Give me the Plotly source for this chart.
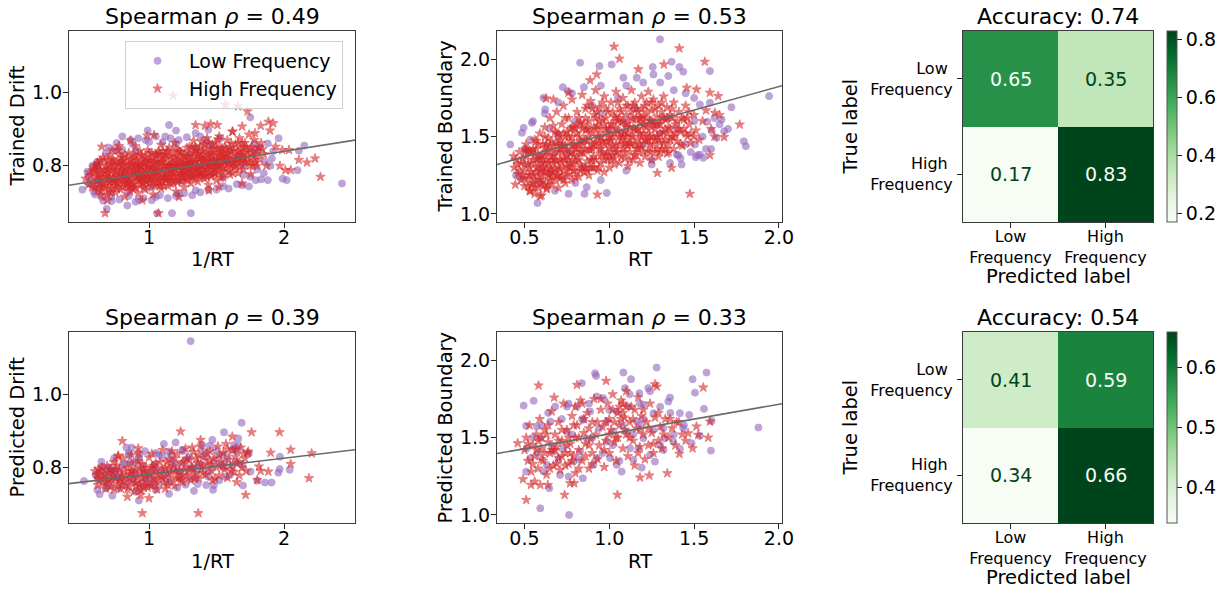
import plotly.graph_objects as go

# ---------------------------------------------------------------- data
# (x, y) pairs per panel and frequency group

# Trained drift vs 1/RT
drift_train_low = [
    (0.506, 0.735), (0.543, 0.784), (0.617, 0.811), (0.592, 0.729), (0.654, 0.715), (0.686, 0.683),
    (0.723, 0.704), (0.802, 0.880), (0.839, 0.692), (0.925, 0.708), (0.990, 0.896), (1.148, 0.911),
    (1.200, 0.896), (1.120, 0.880), (1.060, 0.671), (1.170, 0.671), (1.310, 0.671), (1.050, 0.715),
    (1.220, 0.724), (1.345, 0.733), (1.440, 0.735), (1.590, 0.738), (1.690, 0.747), (1.740, 0.744),
    (1.790, 0.761), (1.830, 0.763), (1.880, 0.761), (1.990, 0.765), (2.020, 0.761), (2.100, 0.788),
    (2.150, 0.855), (2.110, 0.841), (1.960, 0.875), (1.750, 0.932), (2.430, 0.752), (1.880, 0.861),
    (1.860, 0.811), (1.910, 0.820), (1.790, 0.843), (1.530, 0.875), (1.345, 0.889), (1.440, 0.898),
    (0.975, 0.870), (0.864, 0.870), (0.750, 0.843), (0.680, 0.834), (0.555, 0.752), (0.630, 0.761),
    (0.800, 0.780), (0.950, 0.800), (1.100, 0.770), (1.300, 0.830), (1.500, 0.800), (1.200, 0.860),
    (1.000, 0.740), (0.700, 0.760), (1.400, 0.780), (1.600, 0.840), (0.900, 0.840), (1.250, 0.760),
    (1.700, 0.800), (1.050, 0.830), (0.850, 0.730), (1.350, 0.850), (1.550, 0.770), (1.150, 0.800),
    (0.750, 0.810), (1.450, 0.860), (0.600, 0.722), (0.660, 0.705), (0.720, 0.715), (0.780, 0.708),
    (0.850, 0.718), (0.900, 0.702), (0.960, 0.712), (1.020, 0.706), (1.080, 0.720), (1.140, 0.712),
    (1.200, 0.718), (1.260, 0.725), (1.320, 0.720), (1.380, 0.728), (1.500, 0.735), (1.550, 0.745),
    (1.650, 0.750), (0.700, 0.850), (0.760, 0.862), (0.800, 0.845), (0.880, 0.858), (0.920, 0.875),
    (1.000, 0.865), (1.050, 0.880), (1.100, 0.865), (1.160, 0.875), (1.220, 0.870), (1.280, 0.878),
    (1.380, 0.880), (1.420, 0.870), (1.800, 0.790), (1.850, 0.780), (1.900, 0.800), (1.750, 0.770),
    (1.700, 0.775), (1.820, 0.850), (1.780, 0.860), (1.920, 0.840), (0.550, 0.770), (0.580, 0.800),
    (0.620, 0.790), (0.600, 0.745),
]
drift_train_high = [
    (0.53, 0.765), (0.55, 0.748), (0.56, 0.782), (0.58, 0.760), (0.59, 0.795), (0.60, 0.741),
    (0.61, 0.773), (0.62, 0.808), (0.63, 0.752), (0.64, 0.787), (0.64, 0.731), (0.66, 0.766),
    (0.67, 0.815), (0.67, 0.744), (0.68, 0.798), (0.69, 0.722), (0.70, 0.778), (0.71, 0.755),
    (0.71, 0.829), (0.72, 0.738), (0.73, 0.791), (0.74, 0.769), (0.74, 0.812), (0.75, 0.727),
    (0.76, 0.752), (0.77, 0.801), (0.77, 0.842), (0.78, 0.775), (0.79, 0.735), (0.80, 0.760),
    (0.80, 0.823), (0.81, 0.789), (0.82, 0.716), (0.83, 0.748), (0.83, 0.808), (0.84, 0.772),
    (0.85, 0.835), (0.86, 0.731), (0.86, 0.795), (0.87, 0.758), (0.88, 0.818), (0.89, 0.780),
    (0.89, 0.742), (0.90, 0.853), (0.91, 0.766), (0.92, 0.803), (0.92, 0.725), (0.93, 0.785),
    (0.94, 0.748), (0.95, 0.827), (0.95, 0.770), (0.96, 0.806), (0.97, 0.735), (0.98, 0.790),
    (0.98, 0.757), (0.99, 0.842), (1.00, 0.775), (1.01, 0.814), (1.02, 0.745), (1.02, 0.796),
    (1.03, 0.722), (1.04, 0.764), (1.05, 0.829), (1.05, 0.782), (1.06, 0.751), (1.07, 0.808),
    (1.08, 0.770), (1.09, 0.857), (1.09, 0.738), (1.10, 0.792), (1.11, 0.820), (1.12, 0.760),
    (1.12, 0.779), (1.13, 0.840), (1.14, 0.745), (1.15, 0.803), (1.16, 0.767), (1.16, 0.826),
    (1.17, 0.786), (1.18, 0.752), (1.19, 0.862), (1.20, 0.812), (1.20, 0.730), (1.21, 0.774),
    (1.22, 0.795), (1.23, 0.838), (1.24, 0.758), (1.24, 0.818), (1.25, 0.780), (1.26, 0.742),
    (1.27, 0.803), (1.28, 0.849), (1.28, 0.765), (1.29, 0.826), (1.30, 0.788), (1.31, 0.752),
    (1.32, 0.810), (1.33, 0.868), (1.33, 0.773), (1.34, 0.834), (1.35, 0.795), (1.36, 0.757),
    (1.37, 0.818), (1.38, 0.852), (1.38, 0.781), (1.39, 0.802), (1.40, 0.840), (1.41, 0.765),
    (1.42, 0.823), (1.43, 0.790), (1.43, 0.875), (1.44, 0.748), (1.45, 0.808), (1.46, 0.846),
    (1.47, 0.775), (1.47, 0.828), (1.48, 0.797), (1.49, 0.862), (1.50, 0.760), (1.51, 0.815),
    (1.52, 0.783), (1.52, 0.880), (1.53, 0.838), (1.54, 0.803), (1.55, 0.768), (1.56, 0.852),
    (1.57, 0.822), (1.57, 0.790), (1.58, 0.870), (1.59, 0.808), (1.60, 0.776), (1.61, 0.840),
    (1.62, 0.893), (1.62, 0.818), (1.63, 0.795), (1.64, 0.858), (1.65, 0.830), (1.66, 0.780),
    (1.67, 0.875), (1.67, 0.808), (1.68, 0.845), (1.69, 0.823), (1.70, 0.790), (1.71, 0.862),
    (1.72, 0.812), (1.73, 0.838), (1.74, 0.885), (1.75, 0.800), (1.76, 0.852), (1.77, 0.825),
    (1.78, 0.870), (1.79, 0.808), (1.80, 0.840), (1.82, 0.818), (1.83, 0.862), (1.85, 0.832),
    (1.87, 0.800),
    (0.62, 0.770), (0.65, 0.752), (0.68, 0.782), (0.70, 0.745), (0.72, 0.805), (0.73, 0.762),
    (0.76, 0.788), (0.78, 0.752), (0.79, 0.812), (0.81, 0.768), (0.82, 0.782), (0.84, 0.742),
    (0.85, 0.800), (0.87, 0.776), (0.88, 0.752), (0.90, 0.790), (0.91, 0.815), (0.93, 0.760),
    (0.94, 0.798), (0.96, 0.780), (0.97, 0.823), (0.99, 0.768), (1.00, 0.752), (1.01, 0.795),
    (1.03, 0.780), (1.04, 0.808), (1.06, 0.770), (1.07, 0.790), (1.08, 0.832), (1.10, 0.758),
    (1.11, 0.800), (1.13, 0.785), (1.14, 0.822), (1.15, 0.770), (1.17, 0.808), (1.18, 0.835),
    (1.19, 0.790), (1.21, 0.755), (1.22, 0.822), (1.23, 0.800), (1.25, 0.768), (1.26, 0.815),
    (1.27, 0.785), (1.29, 0.800), (1.30, 0.835), (1.31, 0.775), (1.32, 0.850), (1.34, 0.790),
    (1.35, 0.815), (1.36, 0.775), (1.37, 0.838), (1.39, 0.823), (1.40, 0.790), (1.41, 0.858),
    (1.42, 0.805), (1.44, 0.830), (1.45, 0.782), (1.46, 0.812), (1.48, 0.845), (1.49, 0.790),
    (1.50, 0.830), (1.51, 0.800), (1.53, 0.820), (1.54, 0.848), (1.55, 0.795), (1.58, 0.835),
    (1.60, 0.805), (1.63, 0.842), (1.65, 0.815), (1.68, 0.830), (1.70, 0.850),
    (0.60, 0.785), (0.63, 0.800), (0.65, 0.738), (0.66, 0.822), (0.69, 0.762), (0.69, 0.790),
    (0.72, 0.728), (0.73, 0.818), (0.75, 0.784), (0.75, 0.745), (0.77, 0.765), (0.78, 0.830),
    (0.80, 0.742), (0.80, 0.800), (0.82, 0.755), (0.83, 0.790), (0.84, 0.822), (0.85, 0.765),
    (0.86, 0.745), (0.87, 0.805), (0.88, 0.782), (0.89, 0.830), (0.90, 0.740), (0.91, 0.798),
    (0.92, 0.775), (0.93, 0.840), (0.94, 0.765), (0.95, 0.788), (0.96, 0.752), (0.97, 0.810),
    (0.98, 0.772), (0.99, 0.795), (1.00, 0.835), (1.01, 0.760), (1.02, 0.820), (1.03, 0.795),
    (1.04, 0.745), (1.05, 0.808), (1.06, 0.785), (1.07, 0.840), (1.08, 0.758), (1.09, 0.810),
    (1.10, 0.775), (1.11, 0.745), (1.12, 0.830), (1.13, 0.762), (1.14, 0.800), (1.15, 0.850),
    (1.16, 0.785), (1.17, 0.760), (1.18, 0.818), (1.19, 0.772), (1.20, 0.845), (1.21, 0.800),
    (1.22, 0.760), (1.23, 0.782), (1.24, 0.838), (1.25, 0.805), (1.26, 0.770), (1.27, 0.825),
    (1.28, 0.792), (1.29, 0.760), (1.30, 0.852), (1.31, 0.810), (1.32, 0.785), (1.33, 0.825),
    (1.34, 0.765), (1.35, 0.842), (1.36, 0.800), (1.37, 0.782), (1.38, 0.820), (1.39, 0.865),
    (1.40, 0.772), (1.41, 0.812), (1.42, 0.845), (1.43, 0.770), (1.44, 0.800), (1.45, 0.835),
    (1.46, 0.772), (1.47, 0.858), (1.48, 0.812), (1.49, 0.780), (1.50, 0.845), (1.51, 0.872),
    (1.52, 0.800), (1.53, 0.768), (1.54, 0.825), (1.56, 0.810), (1.57, 0.845), (1.59, 0.785),
    (1.61, 0.860), (1.62, 0.800), (1.64, 0.818), (1.66, 0.840), (1.67, 0.795), (1.69, 0.862),
    (1.71, 0.808), (1.73, 0.825), (1.75, 0.845), (1.77, 0.800), (1.79, 0.830), (1.81, 0.850),
    (0.57, 0.775), (0.61, 0.758), (0.64, 0.770), (0.67, 0.790), (0.70, 0.802), (0.71, 0.770),
    (0.74, 0.755), (0.76, 0.772), (0.79, 0.788), (0.81, 0.805), (0.83, 0.765), (0.85, 0.785),
    (0.88, 0.800), (0.90, 0.772), (0.92, 0.790), (0.94, 0.812), (0.96, 0.768), (0.98, 0.780),
    (1.00, 0.800), (1.02, 0.768), (1.04, 0.788), (1.06, 0.812), (1.08, 0.792), (1.10, 0.812),
    (1.12, 0.800), (1.14, 0.768), (1.16, 0.800), (1.18, 0.780), (1.20, 0.800), (1.22, 0.808),
    (1.24, 0.790), (1.26, 0.830), (1.28, 0.808), (1.30, 0.772), (1.32, 0.795), (1.34, 0.810),
    (1.36, 0.832), (1.38, 0.800), (1.40, 0.815), (1.42, 0.790), (1.44, 0.815), (1.46, 0.795),
    (1.48, 0.815), (1.50, 0.815), (1.52, 0.830), (1.55, 0.815), (1.58, 0.820), (1.60, 0.825),
    (1.63, 0.810), (1.66, 0.825), (1.70, 0.820),
    (0.58, 0.742), (0.60, 0.800), (0.62, 0.735), (0.64, 0.815), (0.66, 0.748), (0.68, 0.770),
    (0.70, 0.730), (0.72, 0.785), (0.74, 0.800), (0.76, 0.738), (0.78, 0.805), (0.80, 0.770),
    (0.82, 0.830), (0.84, 0.758), (0.86, 0.815), (0.88, 0.738), (0.90, 0.805), (0.92, 0.760),
    (0.94, 0.830), (0.96, 0.740), (0.98, 0.815), (1.00, 0.762), (1.02, 0.835), (1.04, 0.775),
    (1.06, 0.830), (1.08, 0.745), (1.10, 0.825), (1.12, 0.770), (1.14, 0.840), (1.16, 0.752),
    (1.18, 0.800), (1.20, 0.762), (1.22, 0.840), (1.24, 0.775), (1.26, 0.800), (1.28, 0.780),
    (1.30, 0.805), (1.32, 0.770), (1.34, 0.850), (1.36, 0.790), (1.38, 0.768), (1.40, 0.830),
    (1.42, 0.775), (1.44, 0.860), (1.46, 0.830), (1.48, 0.780), (1.50, 0.800), (1.52, 0.850),
    (1.54, 0.785), (1.56, 0.830), (1.58, 0.805), (1.60, 0.850), (1.62, 0.780), (1.64, 0.800),
    (1.66, 0.862), (1.68, 0.812), (1.70, 0.835), (1.72, 0.850), (1.74, 0.810), (1.76, 0.835),
    (1.78, 0.815), (1.80, 0.800), (1.84, 0.845), (0.65, 0.780), (0.75, 0.760), (0.85, 0.752),
    (0.95, 0.755), (1.05, 0.755), (1.15, 0.790), (1.25, 0.790), (1.35, 0.780), (1.45, 0.800),
    (1.55, 0.835), (0.70, 0.815), (0.80, 0.815), (0.90, 0.825), (1.00, 0.815), (1.10, 0.840),
    (1.20, 0.825), (1.30, 0.815), (1.40, 0.800),
    (1.177, 0.991), (1.567, 0.966), (1.660, 0.962), (1.730, 0.948), (2.110, 0.816), (2.170, 0.809),
    (2.230, 0.820), (2.270, 0.770), (2.050, 0.788), (2.010, 0.788), (1.970, 0.800), (0.674, 0.671),
    (1.070, 0.671), (0.642, 0.720), (0.691, 0.706), (0.950, 0.706), (1.222, 0.715), (1.444, 0.733),
    (1.518, 0.743), (1.690, 0.752), (1.753, 0.777), (1.884, 0.920), (1.920, 0.916), (1.827, 0.909),
    (1.896, 0.896), (1.785, 0.889), (1.690, 0.907), (1.617, 0.893), (1.345, 0.911), (1.456, 0.914),
    (1.506, 0.911), (1.414, 0.909), (1.987, 0.843), (2.037, 0.843), (1.938, 0.852), (0.649, 0.852),
    (0.728, 0.843), (0.777, 0.854), (0.864, 0.869), (1.037, 0.884), (0.987, 0.882), (0.592, 0.788),
    (0.617, 0.802),
]

# Trained boundary vs RT
boundary_train_low = [
    (1.299, 2.129), (0.828, 1.978), (0.942, 1.956), (1.014, 1.967), (1.256, 1.950), (1.367, 1.984),
    (1.413, 1.950), (1.593, 1.924), (1.942, 1.762), (1.793, 1.470), (1.805, 1.438), (1.720, 1.690),
    (1.677, 1.535), (1.662, 1.611), (0.416, 1.449), (0.577, 1.071), (0.760, 1.130), (0.854, 1.130),
    (0.985, 1.136), (0.867, 1.173), (0.726, 1.820), (0.756, 1.794), (1.534, 1.384), (1.554, 1.363),
    (1.510, 1.367), (1.407, 1.380), (1.505, 1.449), (1.577, 1.596), (1.593, 1.719), (1.534, 1.708),
    (1.436, 1.920), (1.348, 1.892), (1.260, 1.902), (1.162, 1.881), (1.083, 1.881), (0.485, 1.525),
    (0.495, 1.557), (0.544, 1.589), (0.534, 1.481), (0.475, 1.233), (0.612, 1.751), (0.622, 1.676),
    (1.358, 1.330), (1.397, 1.384), (1.250, 1.352), (1.426, 1.319), (1.632, 1.492), (1.603, 1.540),
    (0.60, 1.35), (0.70, 1.50), (0.80, 1.60), (0.90, 1.70), (1.00, 1.55), (1.10, 1.60), (1.20, 1.45),
    (1.30, 1.52), (0.75, 1.40), (0.85, 1.30), (0.95, 1.65), (1.05, 1.75), (1.15, 1.68), (1.25, 1.60),
    (1.35, 1.62), (1.40, 1.55), (1.45, 1.45), (1.50, 1.60), (1.55, 1.50), (1.60, 1.42), (1.65, 1.58),
    (1.70, 1.55), (0.65, 1.55), (0.55, 1.60), (0.50, 1.42), (0.45, 1.25), (0.58, 1.20), (0.68, 1.15),
    (0.80, 1.20), (0.95, 1.22), (1.10, 1.28), (1.25, 1.32), (1.42, 1.36), (1.48, 1.40), (1.52, 1.38),
    (1.57, 1.42), (1.30, 1.85), (1.20, 1.85), (1.10, 1.83), (0.95, 1.83), (0.85, 1.82), (0.78, 1.78),
    (0.70, 1.72), (0.62, 1.65), (1.45, 1.78), (1.50, 1.75), (1.38, 1.80), (1.62, 1.62),
]
boundary_train_high = [
    (0.44, 1.30), (0.45, 1.35), (0.46, 1.26), (0.47, 1.40), (0.48, 1.22), (0.48, 1.33),
    (0.50, 1.18), (0.50, 1.28), (0.51, 1.37), (0.51, 1.45), (0.52, 1.23), (0.52, 1.32), (0.53, 1.15),
    (0.53, 1.41), (0.54, 1.27), (0.55, 1.20), (0.55, 1.35), (0.56, 1.48), (0.56, 1.13), (0.57, 1.30),
    (0.57, 1.42), (0.58, 1.24), (0.58, 1.17), (0.59, 1.37), (0.59, 1.52), (0.60, 1.28), (0.60, 1.12),
    (0.61, 1.45), (0.61, 1.21), (0.62, 1.33), (0.62, 1.56), (0.63, 1.16), (0.63, 1.40), (0.64, 1.25),
    (0.64, 1.49), (0.65, 1.30), (0.65, 1.62), (0.66, 1.19), (0.66, 1.37), (0.67, 1.44), (0.67, 1.27),
    (0.68, 1.53), (0.68, 1.22), (0.69, 1.34), (0.69, 1.66), (0.70, 1.40), (0.70, 1.17), (0.71, 1.29),
    (0.71, 1.48), (0.72, 1.58), (0.72, 1.24), (0.73, 1.36), (0.73, 1.70), (0.74, 1.44), (0.74, 1.20),
    (0.75, 1.31), (0.75, 1.53), (0.76, 1.62), (0.76, 1.26), (0.77, 1.39), (0.77, 1.47), (0.78, 1.22),
    (0.78, 1.74), (0.79, 1.33), (0.79, 1.56), (0.80, 1.43), (0.80, 1.28), (0.81, 1.66), (0.81, 1.37),
    (0.82, 1.50), (0.82, 1.24), (0.83, 1.59), (0.83, 1.32), (0.84, 1.45), (0.84, 1.77), (0.85, 1.39),
    (0.85, 1.27), (0.86, 1.54), (0.86, 1.68), (0.87, 1.34), (0.87, 1.47), (0.88, 1.25), (0.88, 1.60),
    (0.89, 1.41), (0.89, 1.73), (0.90, 1.30), (0.90, 1.52), (0.91, 1.64), (0.91, 1.37), (0.92, 1.46),
    (0.92, 1.80), (0.93, 1.28), (0.93, 1.57), (0.94, 1.42), (0.94, 1.69), (0.95, 1.33), (0.95, 1.50),
    (0.96, 1.61), (0.96, 1.39), (0.97, 1.76), (0.97, 1.27), (0.98, 1.47), (0.98, 1.55), (0.99, 1.35),
    (0.99, 1.66), (1.00, 1.43), (1.00, 1.30), (1.01, 1.58), (1.01, 1.72), (1.02, 1.38), (1.02, 1.50),
    (1.03, 1.63), (1.03, 1.32), (1.04, 1.45), (1.04, 1.79), (1.05, 1.54), (1.05, 1.40), (1.06, 1.68),
    (1.06, 1.33), (1.07, 1.48), (1.07, 1.59), (1.08, 1.42), (1.08, 1.75), (1.09, 1.36), (1.09, 1.53),
    (1.10, 1.64), (1.10, 1.46), (1.11, 1.31), (1.11, 1.70), (1.12, 1.56), (1.12, 1.40), (1.13, 1.50),
    (1.13, 1.80), (1.14, 1.35), (1.14, 1.61), (1.15, 1.45), (1.15, 1.72), (1.16, 1.54), (1.16, 1.38),
    (1.17, 1.66), (1.17, 1.48), (1.18, 1.33), (1.18, 1.59), (1.19, 1.43), (1.19, 1.76), (1.20, 1.52),
    (1.20, 1.63), (1.21, 1.37), (1.21, 1.70), (1.22, 1.47), (1.22, 1.56), (1.23, 1.41), (1.23, 1.79),
    (1.24, 1.60), (1.24, 1.50), (1.25, 1.35), (1.25, 1.67), (1.26, 1.45), (1.26, 1.74), (1.27, 1.55),
    (1.27, 1.40), (1.28, 1.63), (1.28, 1.50), (1.29, 1.70), (1.29, 1.37), (1.30, 1.58), (1.30, 1.46),
    (1.31, 1.66), (1.31, 1.42), (1.32, 1.53), (1.32, 1.76), (1.33, 1.48), (1.33, 1.61), (1.34, 1.39),
    (1.34, 1.69), (1.35, 1.56), (1.35, 1.45), (1.36, 1.64), (1.37, 1.50), (1.38, 1.42), (1.38, 1.72),
    (1.39, 1.58), (1.40, 1.47), (1.41, 1.66), (1.42, 1.53), (1.43, 1.44), (1.44, 1.61), (1.45, 1.70),
    (1.46, 1.50), (1.47, 1.58), (1.48, 1.46), (1.50, 1.64), (1.51, 1.54), (1.53, 1.48), (1.55, 1.60),
    (1.57, 1.67), (1.60, 1.55), (1.62, 1.50), (1.65, 1.64),
    (0.53, 1.25), (0.56, 1.39), (0.58, 1.31), (0.60, 1.20), (0.62, 1.43), (0.63, 1.29), (0.65, 1.22),
    (0.66, 1.47), (0.68, 1.35), (0.70, 1.25), (0.71, 1.42), (0.73, 1.28), (0.74, 1.50), (0.76, 1.35),
    (0.78, 1.44), (0.80, 1.34), (0.81, 1.52), (0.83, 1.40), (0.85, 1.48), (0.87, 1.55), (0.89, 1.35),
    (0.91, 1.45), (0.93, 1.50), (0.95, 1.42), (0.97, 1.58), (1.00, 1.50), (1.02, 1.44), (1.04, 1.62),
    (1.07, 1.52), (1.10, 1.56), (1.13, 1.45), (1.16, 1.62), (1.19, 1.50), (1.22, 1.66), (1.25, 1.56),
    (0.47, 1.28), (0.49, 1.36), (0.50, 1.23), (0.52, 1.40), (0.54, 1.33), (0.55, 1.25), (0.57, 1.47),
    (0.58, 1.36), (0.59, 1.22), (0.61, 1.30), (0.62, 1.50), (0.63, 1.35), (0.64, 1.19), (0.65, 1.44),
    (0.66, 1.28), (0.67, 1.57), (0.68, 1.40), (0.69, 1.25), (0.70, 1.52), (0.71, 1.35), (0.72, 1.44),
    (0.73, 1.22), (0.74, 1.62), (0.75, 1.38), (0.76, 1.50), (0.77, 1.30), (0.78, 1.56), (0.79, 1.45),
    (0.80, 1.24), (0.81, 1.42), (0.82, 1.62), (0.83, 1.47), (0.84, 1.30), (0.85, 1.58), (0.86, 1.42),
    (0.87, 1.70), (0.88, 1.50), (0.89, 1.30), (0.90, 1.45), (0.91, 1.56), (0.92, 1.35), (0.93, 1.66),
    (0.94, 1.50), (0.95, 1.38), (0.96, 1.72), (0.97, 1.45), (0.98, 1.62), (0.99, 1.40), (1.00, 1.55),
    (1.01, 1.35), (1.02, 1.66), (1.03, 1.52), (1.04, 1.40), (1.05, 1.72), (1.06, 1.50), (1.07, 1.37),
    (1.08, 1.60), (1.09, 1.45), (1.10, 1.70), (1.11, 1.52), (1.12, 1.35), (1.13, 1.62), (1.14, 1.50),
    (1.15, 1.38), (1.16, 1.68), (1.17, 1.55), (1.18, 1.45), (1.19, 1.62), (1.20, 1.40), (1.21, 1.57),
    (1.22, 1.72), (1.23, 1.52), (1.24, 1.40), (1.25, 1.60), (1.26, 1.50), (1.27, 1.68), (1.28, 1.42),
    (1.29, 1.58), (1.30, 1.52), (1.31, 1.72), (1.32, 1.46), (1.33, 1.55), (1.34, 1.62), (1.35, 1.40),
    (1.36, 1.55), (1.37, 1.68), (1.38, 1.50), (1.40, 1.60), (1.42, 1.45), (1.44, 1.55), (1.46, 1.62),
    (1.48, 1.52),
    (0.50, 1.32), (0.52, 1.18), (0.54, 1.40), (0.56, 1.22), (0.57, 1.35), (0.59, 1.28), (0.60, 1.38),
    (0.61, 1.25), (0.63, 1.45), (0.64, 1.33), (0.66, 1.24), (0.67, 1.38), (0.69, 1.46), (0.70, 1.30),
    (0.72, 1.33), (0.73, 1.45), (0.75, 1.25), (0.77, 1.33), (0.78, 1.50), (0.79, 1.28), (0.82, 1.35),
    (0.84, 1.55), (0.86, 1.30), (0.88, 1.42), (0.90, 1.35), (0.92, 1.55), (0.94, 1.30), (0.96, 1.47),
    (0.98, 1.38), (1.00, 1.47), (1.03, 1.42), (1.05, 1.60), (1.08, 1.50), (1.11, 1.44), (1.14, 1.56),
    (1.17, 1.42), (1.20, 1.58), (1.23, 1.48), (1.26, 1.58), (1.29, 1.48), (1.32, 1.62),
    (0.46, 1.32), (0.49, 1.25), (0.51, 1.41), (0.53, 1.30), (0.55, 1.42), (0.56, 1.17), (0.58, 1.45),
    (0.60, 1.33), (0.61, 1.18), (0.62, 1.38), (0.64, 1.41), (0.65, 1.26), (0.67, 1.33), (0.68, 1.29),
    (0.69, 1.52), (0.71, 1.23), (0.72, 1.40), (0.73, 1.52), (0.75, 1.42), (0.76, 1.30), (0.77, 1.55),
    (0.79, 1.38), (0.80, 1.55), (0.82, 1.45), (0.83, 1.28), (0.84, 1.40), (0.86, 1.48), (0.87, 1.28),
    (0.88, 1.55), (0.90, 1.42), (0.91, 1.30), (0.92, 1.62), (0.94, 1.46), (0.95, 1.55), (0.97, 1.35),
    (0.98, 1.52), (1.00, 1.38), (1.01, 1.48), (1.03, 1.36), (1.04, 1.55), (1.06, 1.45), (1.07, 1.66),
    (1.09, 1.40), (1.10, 1.58), (1.12, 1.46), (1.13, 1.66), (1.15, 1.55), (1.16, 1.42), (1.18, 1.52),
    (1.19, 1.68), (1.21, 1.48), (1.22, 1.62), (1.24, 1.45), (1.25, 1.72), (1.27, 1.48), (1.28, 1.58),
    (1.30, 1.40), (1.31, 1.62), (1.33, 1.42), (1.34, 1.52), (1.36, 1.48), (1.37, 1.62), (1.39, 1.52),
    (1.41, 1.55), (1.43, 1.62), (1.45, 1.52), (1.47, 1.66), (1.50, 1.50), (0.54, 1.19), (0.57, 1.27),
    (0.62, 1.27), (0.66, 1.35), (0.70, 1.45), (0.74, 1.35), (0.78, 1.40), (0.82, 1.58), (0.86, 1.62),
    (0.90, 1.68), (0.94, 1.60), (0.98, 1.68), (1.02, 1.58), (1.06, 1.62), (1.10, 1.50), (1.14, 1.70),
    (1.18, 1.62),
    (1.028, 2.082), (1.413, 2.071), (1.060, 2.004), (1.563, 1.984), (1.322, 1.967), (1.475, 1.130),
    (0.930, 1.125), (1.769, 1.578), (1.677, 1.497), (1.593, 1.380), (1.283, 1.265), (1.367, 1.298),
    (1.642, 1.762), (1.593, 1.784), (1.622, 1.654), (0.628, 1.747), (0.671, 1.740), (0.446, 1.190),
    (0.436, 1.373), (0.505, 1.417), (0.534, 1.147), (0.593, 1.114), (0.632, 1.168), (1.456, 1.816),
    (1.514, 1.805), (1.171, 1.935), (0.926, 1.902), (0.887, 1.864), (0.760, 1.784),
]

# Predicted drift vs 1/RT
drift_pred_low = [
    (1.308, 1.147), (1.686, 0.923), (1.555, 0.897), (1.661, 0.880), (1.469, 0.876), (1.110, 0.865),
    (1.197, 0.869), (0.518, 0.763), (0.634, 0.727), (0.728, 0.723), (0.925, 0.710), (1.148, 0.728),
    (1.333, 0.736), (1.474, 0.739), (1.424, 0.752), (1.696, 0.751), (1.802, 0.764), (1.859, 0.759),
    (1.908, 0.759), (1.958, 0.786), (1.968, 0.796), (2.042, 0.794), (1.970, 0.830), (1.740, 0.839),
    (1.629, 0.862), (0.647, 0.816), (0.832, 0.855), (0.871, 0.855), (0.851, 0.835), (0.654, 0.803),
    (1.493, 0.848), (1.530, 0.807), (1.567, 0.775), (1.271, 0.753), (1.049, 0.739), (1.000, 0.753),
    (0.900, 0.734), (0.777, 0.743), (0.679, 0.743), (0.617, 0.739), (1.037, 0.807), (1.173, 0.816),
    (1.370, 0.812), (1.395, 0.862), (1.296, 0.830), (0.963, 0.789), (1.222, 0.789), (1.123, 0.771),
    (0.753, 0.780), (1.642, 0.816), (1.752, 0.789), (1.345, 0.771), (1.444, 0.789), (0.802, 0.807),
    (0.703, 0.789), (0.605, 0.780), (0.925, 0.826), (1.074, 0.835), (1.247, 0.849), (1.148, 0.844),
    (1.543, 0.835), (0.876, 0.762), (0.716, 0.757), (0.975, 0.771), (1.654, 0.844), (1.691, 0.807),
    (1.481, 0.752), (0.70, 0.800), (0.75, 0.790), (0.82, 0.810), (0.90, 0.815), (0.95, 0.760),
    (1.02, 0.770), (1.08, 0.795), (1.15, 0.760), (1.20, 0.810), (1.28, 0.800), (1.35, 0.790),
    (1.42, 0.830), (1.48, 0.810), (1.58, 0.830), (1.62, 0.850), (1.66, 0.860), (0.88, 0.790),
    (0.77, 0.770), (0.66, 0.790), (1.10, 0.830), (1.30, 0.770), (1.55, 0.800), (0.85, 0.840),
    (0.93, 0.835), (1.05, 0.840), (1.25, 0.845), (1.45, 0.860), (1.60, 0.780),
    (0.62, 0.780), (0.67, 0.770), (0.72, 0.795), (0.78, 0.785), (0.83, 0.755), (0.86, 0.815),
    (0.90, 0.780), (0.96, 0.805), (1.00, 0.770), (1.04, 0.795), (1.12, 0.785), (1.18, 0.795),
    (1.23, 0.775), (1.27, 0.820), (1.33, 0.800), (1.38, 0.805), (1.44, 0.775), (1.50, 0.825),
    (1.56, 0.815), (1.62, 0.805), (0.74, 0.825), (0.97, 0.845), (1.16, 0.835), (1.40, 0.845),
    (0.69, 0.750), (0.93, 0.740), (1.07, 0.755), (1.21, 0.745), (1.36, 0.755), (1.52, 0.765),
]
drift_pred_high = [
    (0.62, 0.770), (0.64, 0.792), (0.66, 0.758), (0.67, 0.780), (0.69, 0.805), (0.70, 0.765),
    (0.72, 0.748), (0.73, 0.788), (0.74, 0.815), (0.75, 0.770), (0.77, 0.755), (0.78, 0.795),
    (0.79, 0.742), (0.80, 0.778), (0.81, 0.825), (0.82, 0.762), (0.84, 0.800), (0.85, 0.748),
    (0.86, 0.783), (0.87, 0.812), (0.88, 0.765), (0.89, 0.735), (0.90, 0.795), (0.91, 0.772),
    (0.92, 0.840), (0.93, 0.755), (0.94, 0.787), (0.95, 0.810), (0.96, 0.745), (0.97, 0.775),
    (0.98, 0.798), (0.99, 0.760), (1.00, 0.828), (1.01, 0.782), (1.02, 0.750), (1.03, 0.805),
    (1.04, 0.768), (1.05, 0.790), (1.06, 0.740), (1.08, 0.815), (1.09, 0.775), (1.10, 0.848),
    (1.11, 0.758), (1.12, 0.798), (1.14, 0.782), (1.15, 0.822), (1.16, 0.765), (1.18, 0.805),
    (1.19, 0.750), (1.20, 0.790), (1.21, 0.838), (1.22, 0.772), (1.24, 0.810), (1.25, 0.760),
    (1.26, 0.795), (1.27, 0.852), (1.28, 0.778), (1.30, 0.820), (1.31, 0.765), (1.32, 0.800),
    (1.33, 0.842), (1.34, 0.785), (1.36, 0.812), (1.37, 0.770), (1.38, 0.858), (1.39, 0.795),
    (1.40, 0.828), (1.42, 0.780), (1.43, 0.810), (1.45, 0.845), (1.46, 0.792), (1.47, 0.765),
    (1.48, 0.825), (1.50, 0.800), (1.51, 0.858), (1.52, 0.778), (1.53, 0.815), (1.55, 0.840),
    (1.56, 0.795), (1.57, 0.865), (1.58, 0.772), (1.59, 0.822), (1.60, 0.805), (1.62, 0.848),
    (1.63, 0.788), (1.64, 0.830), (1.65, 0.812), (1.67, 0.778), (1.68, 0.855), (1.69, 0.800),
    (1.71, 0.825), (1.72, 0.790), (1.73, 0.840), (1.65, 0.760),
    (0.66, 0.775), (0.70, 0.785), (0.75, 0.795), (0.78, 0.765), (0.83, 0.775), (0.87, 0.790),
    (0.90, 0.758), (0.95, 0.770), (1.00, 0.785), (1.05, 0.765), (1.10, 0.795), (1.15, 0.800),
    (1.20, 0.770), (1.25, 0.815), (1.30, 0.790), (1.35, 0.825), (1.40, 0.805), (1.45, 0.820),
    (0.72, 0.770), (0.80, 0.752), (0.97, 0.750), (1.12, 0.742), (0.92, 0.818), (0.62, 0.752),
    (0.68, 0.742),
    (0.60, 0.790), (0.63, 0.765), (0.65, 0.800), (0.68, 0.760), (0.71, 0.795), (0.73, 0.775),
    (0.76, 0.805), (0.79, 0.770), (0.82, 0.790), (0.85, 0.770), (0.88, 0.782), (0.91, 0.750),
    (0.93, 0.800), (0.96, 0.790), (0.99, 0.745), (1.02, 0.800), (1.05, 0.812), (1.07, 0.780),
    (1.10, 0.770), (1.13, 0.815), (1.16, 0.785), (1.19, 0.825), (1.22, 0.792), (1.25, 0.780),
    (1.28, 0.825), (1.31, 0.800), (1.34, 0.770), (1.37, 0.835), (1.40, 0.785), (1.43, 0.840),
    (1.46, 0.808), (1.49, 0.770), (1.52, 0.835), (1.55, 0.805), (1.58, 0.850), (1.61, 0.790),
    (1.64, 0.850), (1.67, 0.815), (1.70, 0.838), (0.74, 0.740), (0.84, 0.740), (0.94, 0.738),
    (1.04, 0.752), (1.14, 0.752), (1.24, 0.765), (0.77, 0.830), (0.87, 0.835), (1.02, 0.838),
    (1.17, 0.845), (1.32, 0.855),
    (0.950, 0.675), (1.365, 0.675), (1.716, 0.725), (2.185, 0.771), (2.205, 0.839), (2.049, 0.849),
    (1.967, 0.897), (1.760, 0.897), (1.234, 0.899), (0.802, 0.873), (1.901, 0.841), (2.049, 0.810),
    (1.884, 0.789), (1.827, 0.791), (1.814, 0.803), (1.802, 0.766), (1.735, 0.844), (1.617, 0.885),
    (1.382, 0.876), (0.920, 0.853), (0.772, 0.833), (0.624, 0.796), (0.617, 0.780), (0.839, 0.720),
    (1.000, 0.716), (0.938, 0.725),
]

# Predicted boundary vs RT
boundary_pred_low = [
    (1.279, 1.953), (1.083, 1.921), (0.916, 1.916), (0.922, 1.899), (1.128, 1.878), (1.573, 1.921),
    (1.491, 1.878), (1.505, 1.791), (1.558, 1.686), (1.603, 1.608), (1.599, 1.416), (1.534, 1.511),
    (1.485, 1.464), (1.879, 1.565), (0.593, 1.043), (0.763, 1.000), (0.495, 1.707), (0.554, 1.738),
    (0.510, 1.576), (0.514, 1.431), (0.510, 1.280), (0.646, 1.173), (0.760, 1.248), (0.844, 1.237),
    (1.073, 1.280), (1.191, 1.306), (1.269, 1.345), (1.416, 1.427), (1.348, 1.733), (1.358, 1.759),
    (1.230, 1.820), (1.177, 1.787), (0.838, 1.852), (0.809, 1.701), (0.681, 1.701), (0.750, 1.701),
    (1.093, 1.820), (0.926, 1.766), (0.848, 1.615), (0.985, 1.604), (1.162, 1.604), (1.260, 1.658),
    (1.318, 1.561), (1.377, 1.475), (1.240, 1.388), (1.122, 1.431), (1.005, 1.367), (0.907, 1.324),
    (0.789, 1.345), (0.671, 1.410), (0.593, 1.496), (0.652, 1.604), (0.750, 1.539), (0.867, 1.496),
    (0.985, 1.475), (1.103, 1.539), (1.201, 1.496), (1.299, 1.453), (1.044, 1.669), (0.965, 1.755),
    (0.887, 1.669), (1.201, 1.712), (0.534, 1.367), (0.613, 1.280), (0.710, 1.259), (0.573, 1.572),
    (1.142, 1.356), (1.416, 1.658), (1.471, 1.647), (1.436, 1.561), (1.328, 1.496), (1.181, 1.582),
    (1.112, 1.701), (1.024, 1.539), (0.828, 1.410), (0.730, 1.431), (0.632, 1.324), (1.044, 1.324),
    (0.926, 1.367), (1.171, 1.431),
    (0.55, 1.50), (0.60, 1.58), (0.66, 1.45), (0.72, 1.62), (0.78, 1.52), (0.84, 1.62), (0.90, 1.50),
    (0.96, 1.40), (1.02, 1.45), (1.08, 1.58), (1.14, 1.52), (1.20, 1.62), (1.26, 1.55), (1.32, 1.42),
    (1.38, 1.52), (0.70, 1.36), (0.82, 1.36), (0.94, 1.56), (1.06, 1.35), (1.18, 1.72), (1.30, 1.70),
    (1.44, 1.58), (0.58, 1.40), (0.64, 1.66), (0.76, 1.72), (0.88, 1.72), (1.00, 1.68), (1.12, 1.78),
    (1.24, 1.80), (1.36, 1.66),
]
boundary_pred_high = [
    (0.50, 1.42), (0.51, 1.50), (0.52, 1.35), (0.53, 1.58), (0.54, 1.28), (0.55, 1.45), (0.56, 1.38),
    (0.57, 1.52), (0.58, 1.30), (0.59, 1.62), (0.60, 1.43), (0.61, 1.35), (0.62, 1.55), (0.63, 1.26),
    (0.64, 1.47), (0.65, 1.40), (0.66, 1.67), (0.67, 1.32), (0.68, 1.52), (0.69, 1.44), (0.70, 1.37),
    (0.70, 1.60), (0.71, 1.29), (0.72, 1.48), (0.73, 1.72), (0.74, 1.40), (0.75, 1.55), (0.76, 1.33),
    (0.77, 1.46), (0.78, 1.64), (0.79, 1.38), (0.80, 1.50), (0.80, 1.27), (0.81, 1.58), (0.82, 1.42),
    (0.83, 1.74), (0.84, 1.35), (0.85, 1.53), (0.86, 1.46), (0.87, 1.66), (0.88, 1.30), (0.89, 1.49),
    (0.90, 1.60), (0.90, 1.40), (0.91, 1.75), (0.92, 1.52), (0.93, 1.36), (0.94, 1.45), (0.95, 1.68),
    (0.96, 1.57), (0.97, 1.31), (0.98, 1.48), (0.99, 1.72), (1.00, 1.40), (1.00, 1.62), (1.01, 1.55),
    (1.02, 1.78), (1.03, 1.47), (1.04, 1.35), (1.05, 1.66), (1.06, 1.58), (1.07, 1.74), (1.08, 1.43),
    (1.09, 1.63), (1.10, 1.52), (1.10, 1.80), (1.11, 1.38), (1.12, 1.60), (1.13, 1.70), (1.14, 1.48),
    (1.15, 1.32), (1.16, 1.56), (1.17, 1.76), (1.18, 1.44), (1.19, 1.64), (1.20, 1.52), (1.21, 1.36),
    (1.22, 1.60), (1.23, 1.45), (1.24, 1.72), (1.25, 1.53), (1.26, 1.40), (1.27, 1.63), (1.28, 1.83),
    (1.29, 1.48), (1.30, 1.57), (1.31, 1.43), (1.33, 1.62), (1.35, 1.50), (1.37, 1.56), (1.39, 1.45),
    (1.41, 1.60), (1.43, 1.52), (1.45, 1.48),
    (0.60, 1.50), (0.65, 1.30), (0.68, 1.42), (0.72, 1.38), (0.75, 1.45), (0.78, 1.35), (0.82, 1.50),
    (0.86, 1.38), (1.03, 1.60), (1.06, 1.70), (1.08, 1.66), (1.09, 1.55), (1.05, 1.50), (0.62, 1.40),
    (0.70, 1.48), (0.57, 1.42), (0.80, 1.70), (0.84, 1.72), (0.95, 1.75), (1.15, 1.68),
    (0.52, 1.46), (0.55, 1.33), (0.58, 1.48), (0.60, 1.36), (0.63, 1.52), (0.66, 1.42), (0.69, 1.33),
    (0.72, 1.55), (0.74, 1.32), (0.77, 1.40), (0.79, 1.58), (0.82, 1.30), (0.85, 1.62), (0.88, 1.45),
    (0.90, 1.33), (0.93, 1.60), (0.97, 1.42), (1.00, 1.52), (1.02, 1.68), (1.04, 1.50), (1.07, 1.62),
    (1.10, 1.70), (1.12, 1.50), (1.14, 1.62), (1.17, 1.40), (1.20, 1.68), (1.23, 1.56), (1.26, 1.46),
    (1.29, 1.66), (1.32, 1.52), (0.64, 1.58), (0.76, 1.50), (0.88, 1.56), (1.08, 1.72), (0.98, 1.60),
    (1.18, 1.55),
    (0.583, 1.837), (0.510, 1.097), (0.736, 1.130), (1.048, 1.130), (0.460, 1.464), (0.491, 1.231),
    (1.554, 1.824), (1.593, 1.604), (1.583, 1.500), (1.491, 1.431), (1.413, 1.395), (1.342, 1.270),
    (1.236, 1.255), (1.181, 1.242), (0.981, 1.867), (0.809, 1.841), (1.269, 1.845), (0.675, 1.759),
    (0.538, 1.194), (0.560, 1.216), (0.593, 1.194), (0.638, 1.194), (0.769, 1.205), (0.793, 1.205),
    (1.465, 1.528), (1.514, 1.572), (1.524, 1.518), (1.397, 1.600), (1.358, 1.621),
]

# Linear fits (intercept, slope) for each scatter panel
fit_drift_train = (0.7234, 0.0580)
fit_boundary_train = (1.2176, 0.303)
fit_drift_pred = (0.7381, 0.0439)
fit_boundary_pred = (1.332, 0.192)

# Row-normalised confusion matrices
class_labels = ["Low Frequency", "High Frequency"]
cm_trained = [[0.65, 0.35], [0.17, 0.83]]
cm_predicted = [[0.41, 0.59], [0.34, 0.66]]
acc_trained = 0.74
acc_predicted = 0.54
rho_values = [0.49, 0.53, 0.39, 0.33]

# ---------------------------------------------------------------- style
W, H = 1225, 590
FONT = "DejaVu Sans"
LOW_COLOR = "#9467bd"
HIGH_COLOR = "#d62728"
FIT_COLOR = "#6a6a6a"
SPINE = "#3a3a3a"
GREENS = ["#f7fcf5", "#e5f5e0", "#c7e9c0", "#a1d99b", "#74c476",
          "#41ab5d", "#238b45", "#006d2c", "#00441b"]
greens_scale = [[i / (len(GREENS) - 1), c] for i, c in enumerate(GREENS)]

TITLE_SIZE = 22
LABEL_SIZE = 19.5
TICK_SIZE = 19
CM_TICK_SIZE = 16
CELL_SIZE = 19


def px(x):
    return x / W


def py(y):
    return 1 - y / H


# panel boxes in pixels: (left, right) per column, (top, bottom) per row
COL_X = [(69, 355), (497, 782), (963, 1153)]
ROW_Y = [(31, 222), (332, 523)]

fig = go.Figure()
layout = dict(
    width=W, height=H, autosize=False,
    margin=dict(l=0, r=0, t=0, b=0, autoexpand=False),
    paper_bgcolor="white", plot_bgcolor="white",
    font=dict(family=FONT, size=18, color="black"),
    showlegend=True,
    legend=dict(
        x=px(125), y=py(41), xanchor="left", yanchor="top",
        bgcolor="rgba(255,255,255,0.8)", bordercolor="#d0d0d0", borderwidth=1,
        font=dict(family=FONT, size=19, color="black"),
        itemwidth=53, tracegroupgap=0,
    ),
)
annotations = []


def axis_common(domain, rng, tickvals, ticktext, tick_size, standoff):
    return dict(
        domain=domain, range=rng, tickvals=tickvals, ticktext=ticktext,
        showgrid=False, zeroline=False, showline=True, mirror=True,
        linecolor=SPINE, linewidth=1, ticks="outside", ticklen=5, tickwidth=1,
        tickcolor="#222", tickfont=dict(family=FONT, size=tick_size, color="black"),
        ticklabelstandoff=standoff, fixedrange=True,
    )


def add_text(text, x, y, size, angle=0, color="black"):
    annotations.append(dict(
        text=text, x=px(x), y=py(y), xref="paper", yref="paper", showarrow=False,
        font=dict(family=FONT, size=size, color=color), textangle=angle,
        xanchor="center", yanchor="middle",
    ))


def ref_names(n):
    return ("x" if n == 1 else f"x{n}"), ("y" if n == 1 else f"y{n}")


def scatter_panel(n, col, row, low, high, fit, xr, yr, xt, xtext, yt, xlabel, ylabel, rho, legend):
    xref, yref = ref_names(n)
    (l, r), (t, b) = COL_X[col], ROW_Y[row]
    xa = dict(axis_common([px(l), px(r)], xr, xt, xtext, TICK_SIZE, -7), anchor=yref)
    ya = dict(axis_common([py(b), py(t)], yr, yt, [f"{v:.1f}" for v in yt], TICK_SIZE, -3), anchor=xref)
    layout["xaxis" if n == 1 else f"xaxis{n}"] = xa
    layout["yaxis" if n == 1 else f"yaxis{n}"] = ya

    fig.add_trace(go.Scatter(
        x=[p[0] for p in low], y=[p[1] for p in low], mode="markers",
        marker=dict(symbol="circle", size=7, color=LOW_COLOR, opacity=0.6,
                    line=dict(width=1, color=LOW_COLOR)),
        name="Low Frequency", legendgroup="low", showlegend=legend,
        xaxis=xref, yaxis=yref, hoverinfo="skip",
    ))
    fig.add_trace(go.Scatter(
        x=[p[0] for p in high], y=[p[1] for p in high], mode="markers",
        marker=dict(symbol="star", size=7, color=HIGH_COLOR, opacity=0.6,
                    line=dict(width=1, color=HIGH_COLOR)),
        name="High Frequency", legendgroup="high", showlegend=legend,
        xaxis=xref, yaxis=yref, hoverinfo="skip",
    ))
    a, s = fit
    fig.add_trace(go.Scatter(
        x=list(xr), y=[a + s * v for v in xr], mode="lines",
        line=dict(color=FIT_COLOR, width=1.6), showlegend=False,
        xaxis=xref, yaxis=yref, hoverinfo="skip",
    ))
    cx = (l + r) / 2
    add_text(f"Spearman <i>ρ</i> = {rho:.2f}", cx, t - 15, TITLE_SIZE)
    add_text(xlabel, cx, b + 38, LABEL_SIZE)
    add_text(ylabel, l - 52, (t + b) / 2, LABEL_SIZE, angle=-90)


def confusion_panel(n, row, cm, acc, cb_ticks):
    xref, yref = ref_names(n)
    (l, r), (t, b) = COL_X[2], ROW_Y[row]
    flat = [v for rr in cm for v in rr]
    zmin, zmax = min(flat), max(flat)
    xticks = [lab.replace(" ", "<br>") for lab in class_labels]
    yticks = [lab.replace(" ", "\u00a0<br>") for lab in class_labels]
    layout[f"xaxis{n}"] = dict(axis_common([px(l), px(r)], [-0.5, 1.5], [0, 1], xticks, CM_TICK_SIZE, -5), anchor=yref)
    layout[f"yaxis{n}"] = dict(axis_common([py(b), py(t)], [1.5, -0.5], [0, 1], yticks, CM_TICK_SIZE, 1), anchor=xref)
    fig.add_trace(go.Heatmap(
        z=cm, x=[0, 1], y=[0, 1], colorscale=greens_scale, zmin=zmin, zmax=zmax,
        xaxis=xref, yaxis=yref, hoverinfo="skip", showscale=True,
        colorbar=dict(
            x=px(1167), xanchor="left", xpad=0, ypad=0,
            y=py((t + b) / 2), yanchor="middle", len=b - t, lenmode="pixels",
            thickness=10, thicknessmode="pixels",
            outlinewidth=1, outlinecolor="#555",
            tickvals=cb_ticks, ticktext=[f"{v:.1f}" for v in cb_ticks],
            ticks="outside", ticklen=5, tickwidth=1, tickcolor="#222",
            tickfont=dict(family=FONT, size=TICK_SIZE, color="black"),
        ),
    ))
    thresh = (zmin + zmax) / 2
    for i in range(2):
        for j in range(2):
            v = cm[i][j]
            color = GREENS[0] if v >= thresh else GREENS[-1]
            annotations.append(dict(
                text=f"{v:.2f}", x=j, y=i, xref=xref, yref=yref, showarrow=False,
                font=dict(family=FONT, size=CELL_SIZE, color=color),
            ))
    cx = (l + r) / 2
    add_text(f"Accuracy: {acc:.2f}", cx, t - 15, TITLE_SIZE)
    add_text("Predicted label", cx, b + 54, LABEL_SIZE)
    add_text("True label", l - 113, (t + b) / 2, LABEL_SIZE, angle=-90)


scatter_panel(1, 0, 0, drift_train_low, drift_train_high, fit_drift_train,
              (0.407, 2.526), (0.647, 1.167), [1, 2], ["1", "2"], [0.8, 1.0],
              "1/RT", "Trained Drift", rho_values[0], True)
scatter_panel(2, 1, 0, boundary_train_low, boundary_train_high, fit_boundary_train,
              (0.338, 2.018), (0.948, 2.183), [0.5, 1.0, 1.5, 2.0], ["0.5", "1.0", "1.5", "2.0"],
              [1.0, 1.5, 2.0], "RT", "Trained Boundary", rho_values[1], False)
confusion_panel(3, 0, cm_trained, acc_trained, [0.2, 0.4, 0.6, 0.8])
scatter_panel(4, 0, 1, drift_pred_low, drift_pred_high, fit_drift_pred,
              (0.407, 2.526), (0.648, 1.172), [1, 2], ["1", "2"], [0.8, 1.0],
              "1/RT", "Predicted Drift", rho_values[2], False)
scatter_panel(5, 1, 1, boundary_pred_low, boundary_pred_high, fit_boundary_pred,
              (0.338, 2.018), (0.948, 2.183), [0.5, 1.0, 1.5, 2.0], ["0.5", "1.0", "1.5", "2.0"],
              [1.0, 1.5, 2.0], "RT", "Predicted Boundary", rho_values[3], False)
confusion_panel(6, 1, cm_predicted, acc_predicted, [0.4, 0.5, 0.6])

layout["annotations"] = annotations
fig.update_layout(**layout)
fig.write_html("out.html")
